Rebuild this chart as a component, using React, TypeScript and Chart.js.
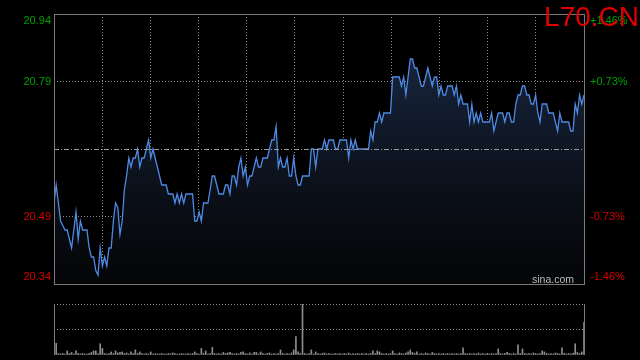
import React, { useEffect, useRef } from "react";
import { Chart, registerables } from "chart.js";

Chart.register(...registerables);

const TITLE = "L70.CN";
const WATERMARK = "sina.com";
const PREV_CLOSE = 20.64;
const PRICE_MIN = 20.34;
const PRICE_MAX = 20.94;
const PRICE_TICKS = [20.34, 20.49, 20.64, 20.79, 20.94];
const PRICE_LABELS = ["20.34", "20.49", "", "20.79", "20.94"];
const PCT_LABELS = ["-1.46%", "-0.73%", "", "+0.73%", "+1.46%"];
const X_DIVISIONS = 11;
const VOL_MAX = 100;

const PRICES = [
  20.52, 20.56, 20.52, 20.48, 20.47, 20.46, 20.46, 20.44, 20.42, 20.46,
  20.50, 20.44, 20.48, 20.46, 20.46, 20.46, 20.42, 20.40, 20.40, 20.37,
  20.36, 20.42, 20.38, 20.40, 20.38, 20.42, 20.42, 20.48, 20.52, 20.51,
  20.45, 20.48, 20.55, 20.58, 20.62, 20.60, 20.62, 20.62, 20.64, 20.60,
  20.62, 20.62, 20.64, 20.66, 20.62, 20.64, 20.62, 20.60, 20.58, 20.56,
  20.56, 20.56, 20.54, 20.54, 20.54, 20.52, 20.54, 20.52, 20.54, 20.52,
  20.54, 20.54, 20.54, 20.54, 20.48, 20.48, 20.50, 20.48, 20.52, 20.52,
  20.52, 20.55, 20.58, 20.58, 20.56, 20.54, 20.54, 20.54, 20.56, 20.56,
  20.54, 20.58, 20.58, 20.56, 20.60, 20.62, 20.58, 20.60, 20.56, 20.58,
  20.58, 20.60, 20.62, 20.60, 20.60, 20.62, 20.62, 20.62, 20.64, 20.66,
  20.66, 20.69, 20.60, 20.62, 20.60, 20.60, 20.62, 20.58, 20.58, 20.62,
  20.58, 20.56, 20.56, 20.58, 20.58, 20.58, 20.58, 20.64, 20.64, 20.60,
  20.64, 20.64, 20.64, 20.66, 20.64, 20.66, 20.66, 20.66, 20.64, 20.64,
  20.66, 20.66, 20.66, 20.66, 20.62, 20.66, 20.64, 20.66, 20.64, 20.64,
  20.64, 20.64, 20.64, 20.64, 20.68, 20.66, 20.70, 20.70, 20.72, 20.70,
  20.72, 20.72, 20.72, 20.72, 20.80, 20.80, 20.80, 20.80, 20.78, 20.80,
  20.76, 20.80, 20.84, 20.84, 20.82, 20.82, 20.80, 20.78, 20.78, 20.80,
  20.82, 20.80, 20.78, 20.80, 20.80, 20.76, 20.78, 20.76, 20.76, 20.78,
  20.78, 20.78, 20.76, 20.78, 20.74, 20.76, 20.74, 20.74, 20.74, 20.70,
  20.74, 20.70, 20.72, 20.70, 20.72, 20.70, 20.70, 20.70, 20.70, 20.72,
  20.68, 20.70, 20.72, 20.72, 20.72, 20.70, 20.72, 20.72, 20.70, 20.70,
  20.74, 20.76, 20.76, 20.78, 20.78, 20.76, 20.76, 20.74, 20.74, 20.76,
  20.72, 20.70, 20.74, 20.74, 20.74, 20.72, 20.72, 20.72, 20.70, 20.68,
  20.72, 20.70, 20.70, 20.70, 20.70, 20.68, 20.68, 20.74, 20.72, 20.76,
  20.74, 20.76,
];

const VOLUMES = [
  26, 23, 3, 2, 3, 2, 8, 3, 5, 2,
  8, 3, 2, 3, 2, 2, 3, 5, 8, 8,
  3, 22, 13, 3, 2, 3, 6, 3, 8, 4,
  5, 6, 3, 4, 2, 6, 3, 10, 3, 6,
  3, 2, 3, 2, 6, 2, 3, 2, 2, 3,
  2, 2, 3, 2, 4, 3, 2, 2, 3, 2,
  2, 3, 2, 3, 6, 3, 2, 13, 3, 8,
  2, 3, 15, 3, 2, 3, 2, 5, 3, 4,
  5, 3, 2, 3, 2, 5, 6, 3, 2, 4,
  2, 5, 5, 2, 6, 3, 2, 3, 4, 2,
  3, 2, 3, 10, 3, 2, 3, 2, 4, 10,
  36, 6, 3, 100, 3, 2, 3, 10, 2, 6,
  3, 2, 3, 4, 2, 3, 2, 2, 3, 2,
  3, 2, 3, 2, 4, 2, 3, 2, 3, 2,
  3, 2, 3, 2, 3, 8, 3, 8, 6, 3,
  2, 3, 2, 3, 8, 3, 2, 4, 3, 2,
  4, 6, 10, 5, 3, 6, 2, 3, 2, 4,
  3, 2, 5, 3, 2, 3, 2, 3, 2, 3,
  2, 3, 2, 3, 2, 3, 14, 3, 2, 3,
  2, 3, 2, 4, 2, 3, 2, 3, 2, 3,
  2, 3, 12, 3, 2, 3, 5, 3, 2, 3,
  2, 20, 3, 12, 3, 2, 3, 2, 4, 3,
  2, 3, 8, 6, 3, 2, 3, 2, 4, 3,
  2, 14, 3, 2, 3, 2, 4, 22, 5, 3,
  6, 64,
];

const FONT = '"Liberation Sans", Arial, Helvetica, sans-serif';
const GRID_COLOR = "#8a8a8a";
const FRAME_COLOR = "#7a7a7a";
const UP_COLOR = "#00a000";
const DOWN_COLOR = "#d40000";
const LINE_COLOR = "rgb(78,138,228)";

Chart.defaults.font.family = FONT;

const lastIndex = PRICES.length - 1;
const X_TICKS = Array.from({ length: X_DIVISIONS + 1 }, (_, k) => (k * lastIndex) / X_DIVISIONS);

function stackedLabel(text: string, index: number, count: number): string | string[] {
  if (index === 0) return [text, ""];
  if (index === count - 1) return ["", text];
  return text;
}

const priceFramePlugin = {
  id: "priceFrame",
  afterDatasetsDraw(chart: any) {
    const { ctx, chartArea } = chart;
    const y = Math.round(chart.scales.y.getPixelForValue(PREV_CLOSE)) + 0.5;
    ctx.save();
    ctx.strokeStyle = "#9a9a9a";
    ctx.lineWidth = 1;
    ctx.setLineDash([5, 2, 1, 2]);
    ctx.beginPath();
    ctx.moveTo(chartArea.left, y);
    ctx.lineTo(chartArea.right, y);
    ctx.stroke();
    ctx.restore();
  },
  afterDraw(chart: any) {
    const { ctx, chartArea } = chart;
    ctx.save();
    ctx.strokeStyle = FRAME_COLOR;
    ctx.lineWidth = 1;
    ctx.strokeRect(chartArea.left + 0.5, chartArea.top + 0.5, chartArea.right - chartArea.left, chartArea.bottom - chartArea.top);
    ctx.restore();
  },
};

const volFramePlugin = {
  id: "volFrame",
  afterDraw(chart: any) {
    const { ctx, chartArea } = chart;
    ctx.save();
    ctx.strokeStyle = FRAME_COLOR;
    ctx.lineWidth = 1;
    ctx.beginPath();
    ctx.moveTo(chartArea.left + 0.5, chartArea.top);
    ctx.lineTo(chartArea.left + 0.5, chartArea.bottom);
    ctx.moveTo(chartArea.right + 0.5, chartArea.top);
    ctx.lineTo(chartArea.right + 0.5, chartArea.bottom);
    ctx.stroke();
    ctx.restore();
  },
};

function fixVertical(width: number) {
  return (s: any) => {
    s.width = width;
    s.paddingTop = 0;
    s.paddingBottom = 0;
  };
}

export default function App() {
  const priceRef = useRef<HTMLCanvasElement>(null);
  const volRef = useRef<HTMLCanvasElement>(null);

  useEffect(() => {
    const priceData = PRICES.map((v, i) => ({ x: i, y: v }));
    const volData = VOLUMES.map((v, i) => ({ x: i, y: v }));

    const priceChart = new Chart(priceRef.current as HTMLCanvasElement, {
      type: "line",
      data: {
        datasets: [
          {
            data: priceData,
            borderColor: LINE_COLOR,
            borderWidth: 1.3,
            pointRadius: 0,
            tension: 0,
            fill: "start",
            backgroundColor: (c: any) => {
              const area = c.chart.chartArea;
              if (!area) return "rgba(0,0,0,0)";
              const g = c.chart.ctx.createLinearGradient(0, area.top, 0, area.bottom);
              g.addColorStop(0, "rgb(28,44,72)");
              g.addColorStop(0.35, "rgb(18,28,46)");
              g.addColorStop(0.7, "rgb(10,14,22)");
              g.addColorStop(1, "rgb(4,5,7)");
              return g;
            },
          },
        ],
      },
      options: {
        animation: false,
        responsive: false,
        events: [],
        layout: { padding: { top: 14, bottom: 6, left: 0, right: 0 } },
        plugins: { legend: { display: false }, tooltip: { enabled: false } },
        scales: {
          x: {
            type: "linear",
            min: 0,
            max: lastIndex,
            z: 1,
            afterBuildTicks: (s: any) => {
              s.ticks = X_TICKS.map((v) => ({ value: v }));
            },
            afterFit: (s: any) => {
              s.height = 0;
              s.paddingLeft = 0;
              s.paddingRight = 0;
            },
            ticks: { display: false },
            border: { display: false, dash: [1, 2] },
            grid: {
              drawTicks: false,
              color: (c: any) => (c.index === 0 || c.index === X_DIVISIONS ? "rgba(0,0,0,0)" : GRID_COLOR),
            },
          },
          y: {
            position: "left",
            min: PRICE_MIN,
            max: PRICE_MAX,
            z: 1,
            afterBuildTicks: (s: any) => {
              s.ticks = PRICE_TICKS.map((v) => ({ value: v }));
            },
            afterFit: fixVertical(54),
            border: { display: false, dash: [1, 2] },
            grid: {
              drawTicks: false,
              color: (c: any) => (c.index === 1 || c.index === 3 ? GRID_COLOR : "rgba(0,0,0,0)"),
            },
            ticks: {
              padding: 3,
              font: { size: 11, family: FONT },
              color: (c: any) => (c.index > 2 ? UP_COLOR : DOWN_COLOR),
              callback: (_v: any, i: number) => stackedLabel(PRICE_LABELS[i], i, PRICE_TICKS.length),
            },
          },
          y1: {
            position: "right",
            min: PRICE_MIN,
            max: PRICE_MAX,
            afterBuildTicks: (s: any) => {
              s.ticks = PRICE_TICKS.map((v) => ({ value: v }));
            },
            afterFit: fixVertical(56),
            border: { display: false },
            grid: { display: false, drawTicks: false },
            ticks: {
              padding: 6,
              font: { size: 11, family: FONT },
              color: (c: any) => (c.index > 2 ? UP_COLOR : DOWN_COLOR),
              callback: (_v: any, i: number) => stackedLabel(PCT_LABELS[i], i, PRICE_TICKS.length),
            },
          },
        },
      },
      plugins: [priceFramePlugin],
    } as any);

    const volChart = new Chart(volRef.current as HTMLCanvasElement, {
      type: "bar",
      data: {
        datasets: [
          {
            data: volData,
            backgroundColor: "#8c8c8c",
            barThickness: 1,
          },
        ],
      },
      options: {
        animation: false,
        responsive: false,
        events: [],
        layout: { padding: { top: 14, bottom: 5, left: 0, right: 56 } },
        plugins: { legend: { display: false }, tooltip: { enabled: false } },
        scales: {
          x: {
            type: "linear",
            min: 0,
            max: lastIndex,
            offset: false,
            display: false,
          },
          y: {
            position: "left",
            min: 0,
            max: VOL_MAX,
            afterBuildTicks: (s: any) => {
              s.ticks = [0, VOL_MAX / 2, VOL_MAX].map((v) => ({ value: v }));
            },
            afterFit: fixVertical(54),
            border: { display: false, dash: [1, 2] },
            grid: {
              drawTicks: false,
              color: (c: any) => (c.index === 0 ? "rgba(0,0,0,0)" : GRID_COLOR),
            },
            ticks: { display: false },
          },
        },
      },
      plugins: [volFramePlugin],
    } as any);

    return () => {
      priceChart.destroy();
      volChart.destroy();
    };
  }, []);

  return (
    <div
      style={{
        position: "fixed",
        left: 0,
        top: 0,
        width: 640,
        height: 360,
        background: "#000",
        overflow: "hidden",
      }}
    >
      <canvas
        ref={priceRef}
        width={640}
        height={290}
        style={{ position: "absolute", left: 0, top: 0, width: 640, height: 290 }}
      />
      <canvas
        ref={volRef}
        width={640}
        height={70}
        style={{ position: "absolute", left: 0, top: 290, width: 640, height: 70 }}
      />
      <div
        style={{
          position: "absolute",
          right: 1,
          top: 3,
          color: "#e00000",
          fontFamily: FONT,
          fontSize: 28,
          lineHeight: "28px",
          whiteSpace: "nowrap",
        }}
      >
        {TITLE}
      </div>
      <div
        style={{
          position: "absolute",
          left: 532,
          top: 273,
          color: "#bbbbbb",
          fontFamily: FONT,
          fontSize: 10.5,
          lineHeight: "12px",
          whiteSpace: "nowrap",
        }}
      >
        {WATERMARK}
      </div>
    </div>
  );
}
